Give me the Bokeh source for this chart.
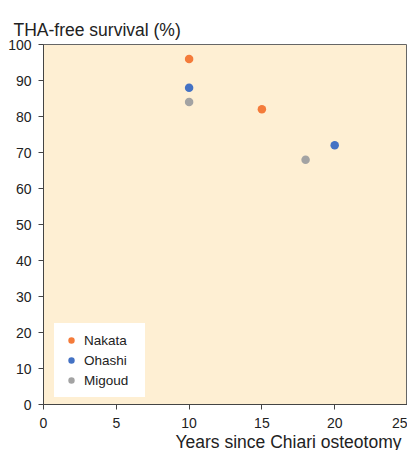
from bokeh.plotting import figure
from bokeh.models import Title, Legend, LegendItem, FixedTicker, Range1d
from bokeh.embed import file_html
from bokeh.resources import INLINE

# Data
nakata_years = [10, 15]
nakata_surv = [96, 82]
ohashi_years = [10, 20]
ohashi_surv = [88, 72]
migoud_years = [10, 18]
migoud_surv = [84, 68]
x_ticks = [0, 5, 10, 15, 20, 25]
y_ticks = [0, 10, 20, 30, 40, 50, 60, 70, 80, 90, 100]

FONT = "Liberation Sans"

p = figure(width=407, height=450, output_backend="svg", toolbar_location=None,
           x_range=Range1d(0, 25), y_range=Range1d(0, 100),
           min_border_left=43, min_border_right=0, min_border_top=44, min_border_bottom=30)

p.background_fill_color = "#FEEFD3"
p.border_fill_color = "white"
p.outline_line_color = "#666666"
p.outline_line_width = 1
p.grid.visible = False

for ax in (p.xaxis[0], p.yaxis[0]):
    ax.major_label_text_font = FONT
    ax.major_label_text_font_size = "14px"
    ax.major_label_text_color = "#222222"
    ax.axis_line_color = "#444444"
    ax.major_tick_line_color = "#444444"
    ax.major_tick_out = 5
    ax.major_tick_in = 0
    ax.minor_tick_out = 0
    ax.minor_tick_in = 0

p.xaxis.ticker = FixedTicker(ticks=x_ticks)
p.yaxis.ticker = FixedTicker(ticks=y_ticks)
p.xaxis.major_label_standoff = 8
p.yaxis.major_label_standoff = 7

r1 = p.scatter(nakata_years, nakata_surv, size=8.5, color="#F47B3A", line_color=None)
r2 = p.scatter(ohashi_years, ohashi_surv, size=8.5, color="#4472C4", line_color=None)
r3 = p.scatter(migoud_years, migoud_surv, size=8.5, color="#A3A3A3", line_color=None)

legend = Legend(items=[LegendItem(label="Nakata", renderers=[r1]),
                       LegendItem(label="Ohashi", renderers=[r2]),
                       LegendItem(label="Migoud", renderers=[r3])],
                location=(11, 7), padding=8, spacing=4, glyph_width=16, glyph_height=16,
                label_height=16, label_width=52, label_standoff=5, margin=0,
                border_line_color="white", border_line_alpha=1,
                background_fill_color="white", background_fill_alpha=1,
                label_text_font=FONT, label_text_font_size="13.5px", label_text_color="#222222")
p.add_layout(legend, "center")

t = Title(text="THA-free survival (%)", align="left", offset=-30,
          text_font=FONT, text_font_size="17.5px", text_font_style="normal", text_color="#222222",
          standoff=10)
p.add_layout(t, "above")

xl = Title(text="Years since Chiari osteotomy", align="right", offset=6,
           text_font=FONT, text_font_size="17.5px", text_font_style="normal", text_color="#222222",
           standoff=-2)
p.add_layout(xl, "below")

open("out.html", "w").write(file_html(p, INLINE))
